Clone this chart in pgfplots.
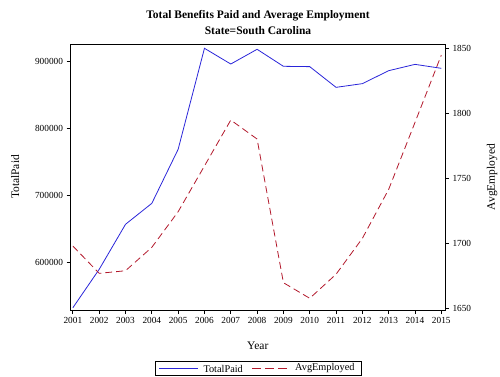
\documentclass[border=0pt]{standalone}
\usepackage{fontspec}
\setmainfont{Liberation Serif}
\usepackage{pgfplots}
\usepackage{pgfplotstable}
\pgfplotsset{compat=1.18}
\definecolor{sasblue}{RGB}{42,37,217}
\definecolor{sasred}{RGB}{178,24,43}

\pgfplotstableread{
year paid emp
2001 532900 1697.9
2002 590000 1676.9
2003 657000 1678.9
2004 688200 1696.9
2005 768600 1724.3
2006 918900 1759.5
2007 895500 1794.8
2008 917400 1780.2
2009 892100 1669.7
2010 891600 1657.7
2011 860800 1676.2
2012 866300 1703.8
2013 885600 1741.5
2014 895000 1793.0
2015 889100 1844.8
}\datatable

\begin{document}
\begin{tikzpicture}
\useasboundingbox (-70.5bp,-67bp) rectangle (429.5bp,310bp);
\pgfplotsset{
  common/.style={
    scale only axis, width=374.5bp, height=266bp,
    at={(0,0)}, anchor=south west,
    xmin=2000.91, xmax=2015.14,
    tick align=outside, major tick length=4bp,
    ticklabel style={font=\fontsize{9.3bp}{11bp}\selectfont},
    /pgf/number format/assume math mode=true,
    /pgf/number format/fixed,
    /pgf/number format/precision=0,
    /pgf/number format/1000 sep={},
    axis line style={line width=0.8bp},
    every tick/.style={line width=0.8bp, black},
  }
}
\begin{axis}[common,
  ymin=529500, ymax=925300,
  xtick={2001,2002,...,2015},
  ytick={600000,700000,800000,900000},
  xtick pos=bottom, ytick pos=left,
  scaled y ticks=false,
  xlabel={Year}, ylabel={TotalPaid},
  xlabel style={at={(axis description cs:0.5,-0.135)}, anchor=center, font=\fontsize{11.5bp}{13bp}\selectfont},
  ylabel style={at={(axis description cs:-0.148,0.5)}, anchor=center, font=\fontsize{11.5bp}{13bp}\selectfont},
]
\addplot[sasblue, line width=0.8bp] table[x=year,y=paid]{\datatable};
\end{axis}
\begin{axis}[common,
  ymin=1648.7, ymax=1853.3,
  axis x line=none, axis y line*=right,
  ytick={1650,1700,1750,1800,1850},
  ylabel={AvgEmployed},
  ylabel style={at={(axis description cs:1.1255,0.5)}, anchor=center, rotate=0, font=\fontsize{11.5bp}{13bp}\selectfont},
]
\addplot[sasred, line width=0.8bp, dash pattern=on 7bp off 4bp]
  table[x=year,y=emp]{\datatable};
\end{axis}
% legend (drawn by hand so the sample lines keep their colours)
\draw[line width=0.6bp] (84.5bp,-51.7bp) rectangle (291.2bp,-65.3bp);
\draw[draw=sasblue, line width=0.8bp] (88.8bp,-58.5bp) -- (127.2bp,-58.5bp);
\node[anchor=west, inner sep=0pt, font=\fontsize{10.3bp}{12bp}\selectfont] at (132.8bp,-58.5bp) {TotalPaid};
\draw[draw=sasred, line width=0.8bp, dash pattern=on 9bp off 4bp] (181.8bp,-58.5bp) -- (216.8bp,-58.5bp);
\node[anchor=west, inner sep=0pt, font=\fontsize{10.3bp}{12bp}\selectfont] at (224.5bp,-58.5bp) {AvgEmployed};
\node[font=\bfseries\fontsize{11.5bp}{13bp}\selectfont] at (187.5bp,294bp) {Total Benefits Paid and Average Employment};
\node[font=\bfseries\fontsize{11.5bp}{13bp}\selectfont] at (187.5bp,279bp) {State=South Carolina};
\end{tikzpicture}
\end{document}
